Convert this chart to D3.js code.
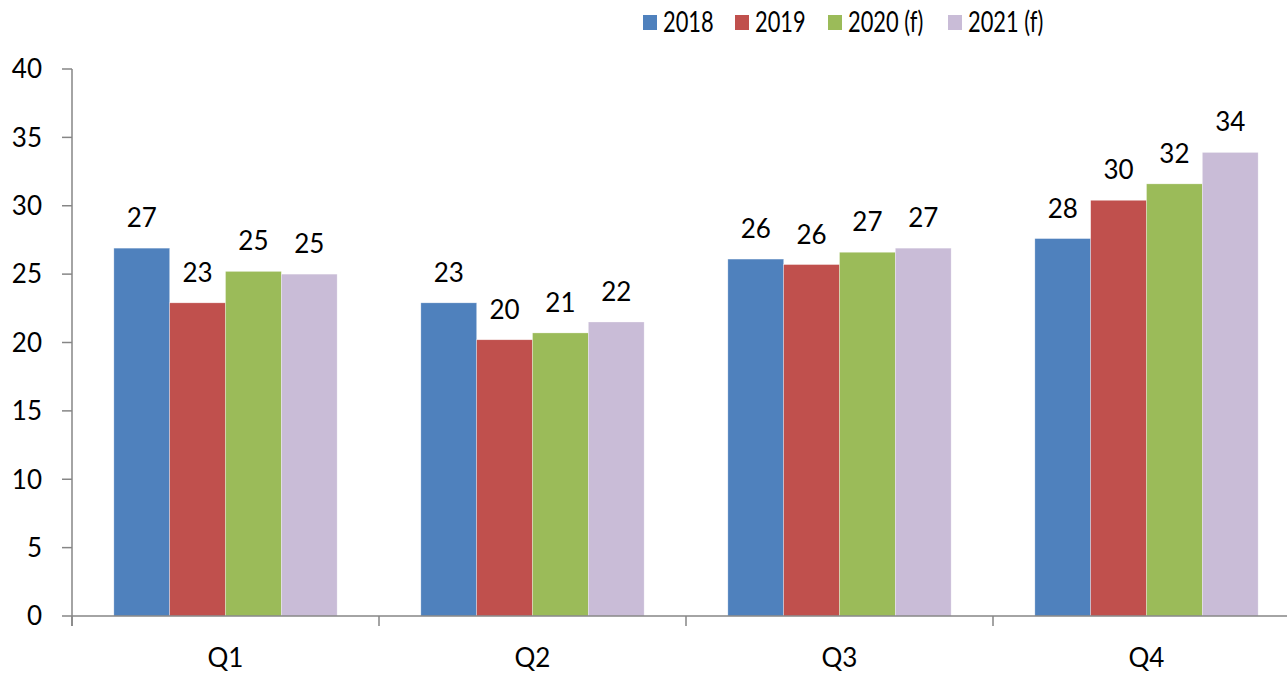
<!DOCTYPE html>
<html>
<head>
<meta charset="utf-8">
<script src="https://cdn.jsdelivr.net/npm/d3@7"></script>
<style>
  body { margin: 0; background: #fff; }
  text { font-family: Lato, "Open Sans", sans-serif; fill: #000; }
</style>
</head>
<body>
<svg width="1287" height="674"></svg>
<script>
const quarters = ["Q1", "Q2", "Q3", "Q4"];
const years = ["2018", "2019", "2020 (f)", "2021 (f)"];
const colors = ["#4F81BD", "#C0504D", "#9BBB59", "#C9BCD7"];

// one array per series, Q1..Q4
const v2018 = [26.9, 22.9, 26.1, 27.6];
const v2019 = [22.9, 20.2, 25.7, 30.4];
const v2020 = [25.2, 20.7, 26.6, 31.6];
const v2021 = [25.0, 21.5, 26.9, 33.9];
const series = [v2018, v2019, v2020, v2021];

const yTicks = [0, 5, 10, 15, 20, 25, 30, 35, 40];

const svg = d3.select("svg");
const mLeft = 72, mRight = 1300, mTop = 69, mBottom = 616;
const axisColor = "#868686";

const x = d3.scaleBand().domain(quarters).range([mLeft, mRight]);
const y = d3.scaleLinear().domain([0, 40]).range([mBottom, mTop]);

// bars take 4 slots out of 5.5 (gap width 150%)
const barW = x.bandwidth() / 5.5;
const gapL = barW * 0.75;

const gBars = svg.append("g");
series.forEach(function(vals, si) {
  gBars.selectAll(".bar-" + si)
    .data(vals)
    .enter()
    .append("rect")
    .attr("class", "bar-" + si)
    .attr("x", (d, i) => x(quarters[i]) + gapL + si * barW)
    .attr("y", d => y(d))
    .attr("width", barW)
    .attr("height", d => y(0) - y(d))
    .attr("fill", colors[si])
    .attr("stroke", "rgba(255,255,255,0.5)")
    .attr("stroke-width", 0.6);

  gBars.selectAll(".lab-" + si)
    .data(vals)
    .enter()
    .append("text")
    .attr("class", "lab-" + si)
    .attr("x", (d, i) => x(quarters[i]) + gapL + si * barW + barW / 2)
    .attr("y", d => y(d) - 21)
    .attr("text-anchor", "middle")
    .attr("font-size", 26)
    .text(d => Math.round(d));
});

// y axis
const gY = svg.append("g");
gY.append("line")
  .attr("x1", mLeft).attr("x2", mLeft).attr("y1", mTop).attr("y2", mBottom + 10)
  .attr("stroke", axisColor).attr("stroke-width", 1.5);
gY.selectAll("line.tick").data(yTicks).enter().append("line")
  .attr("class", "tick")
  .attr("x1", mLeft - 10).attr("x2", mLeft)
  .attr("y1", d => y(d)).attr("y2", d => y(d))
  .attr("stroke", axisColor).attr("stroke-width", 1.5);
gY.selectAll("text").data(yTicks).enter().append("text")
  .attr("x", 42).attr("y", d => y(d))
  .attr("dy", "0.36em")
  .attr("text-anchor", "end")
  .attr("font-size", 26)
  .text(d => d);

// x axis
const gX = svg.append("g");
gX.append("line")
  .attr("x1", mLeft).attr("x2", mRight).attr("y1", mBottom).attr("y2", mBottom)
  .attr("stroke", axisColor).attr("stroke-width", 1.5);
gX.selectAll("line.tick").data(quarters.concat(["end"])).enter().append("line")
  .attr("class", "tick")
  .attr("x1", (d, i) => mLeft + i * x.bandwidth())
  .attr("x2", (d, i) => mLeft + i * x.bandwidth())
  .attr("y1", mBottom).attr("y2", mBottom + 10)
  .attr("stroke", axisColor).attr("stroke-width", 1.5);
gX.selectAll("text").data(quarters).enter().append("text")
  .attr("x", d => x(d) + x.bandwidth() / 2)
  .attr("y", 667)
  .attr("text-anchor", "middle")
  .attr("font-size", 26)
  .text(d => d);

// legend
const legendX = [643, 735, 828, 948];
const gLeg = svg.append("g");
years.forEach(function(name, i) {
  gLeg.append("rect")
    .attr("x", legendX[i]).attr("y", 15)
    .attr("width", 14).attr("height", 15)
    .attr("fill", colors[i]);
  gLeg.append("text")
    .attr("transform", "translate(" + (legendX[i] + 20) + ",32) scale(0.78,1)")
    .attr("font-size", 28)
    .text(name);
});
</script>
</body>
</html>
